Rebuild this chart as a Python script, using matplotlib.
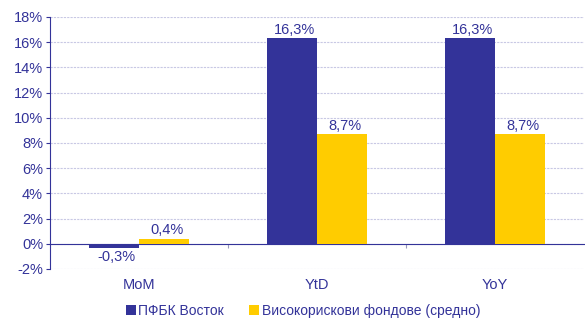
import numpy as np
import matplotlib.pyplot as plt

plt.rcParams['font.family'] = ['Liberation Sans', 'DejaVu Sans']

categories = ['MoM', 'YtD', 'YoY']
series_names = ['ПФБК Восток', 'Високорискови фондове (средно)']
vostok = [-0.3, 16.3, 16.3]
high_risk = [0.4, 8.7, 8.7]
y_ticks = [-2, 0, 2, 4, 6, 8, 10, 12, 14, 16, 18]

blue = '#333399'
yellow = '#FFCC00'
txt = '#333399'

fig = plt.figure(figsize=(5.85, 3.2), dpi=100)
ax = fig.add_axes([50/585, 51/320, 534/585, 252/320])

x = np.arange(len(categories))
w = 0.28
b1 = ax.bar(x - w/2, vostok, w, color=blue, label=series_names[0], zorder=3)
b2 = ax.bar(x + w/2, high_risk, w, color=yellow, label=series_names[1], zorder=3)

for bars, vals in [(b1, vostok), (b2, high_risk)]:
    for rect, v in zip(bars, vals):
        lbl = f'{v:.1f}%'.replace('.', ',')
        cx = rect.get_x() + rect.get_width() / 2
        if v >= 0:
            ax.annotate(lbl, (cx, v), xytext=(2, 1), textcoords='offset points',
                        ha='center', va='bottom', color=txt, fontsize=10.5)
        else:
            ax.annotate(lbl, (cx, v), xytext=(2, -2), textcoords='offset points',
                        ha='center', va='top', color=txt, fontsize=10.5)

ax.set_xlim(-0.5, 2.5)
ax.set_ylim(-2, 18)
ax.set_yticks(y_ticks)
ax.set_yticklabels([f'{t}%' for t in y_ticks], color=txt, fontsize=10.5)
ax.yaxis.grid(True, color='#c8c8e4', linewidth=0.8, linestyle=(0, (2, 1)), zorder=0)

# category axis sits on the zero line
ax.spines['bottom'].set_position(('data', 0))
ax.spines['bottom'].set_color(blue)
ax.spines['left'].set_color(blue)
ax.spines['top'].set_visible(False)
ax.spines['right'].set_visible(False)
ax.set_xticks([0.5, 1.5])
ax.set_xticklabels([])
ax.tick_params(axis='x', direction='out', length=3, color='#9999bb')
ax.tick_params(axis='y', direction='out', length=3, color=blue, pad=2)

for xi, c in zip(x, categories):
    ax.text(xi, -0.065, c, transform=ax.get_xaxis_transform(),
            ha='center', va='center', color=txt, fontsize=10.5)

leg = fig.legend(loc='center', bbox_to_anchor=(303/585, 9/320), ncol=2, frameon=False,
                 fontsize=10, handlelength=0.72, handleheight=0.72, handletextpad=0.2,
                 columnspacing=1.8)
for t in leg.get_texts():
    t.set_color(txt)

fig.savefig('out.png', dpi=100)
